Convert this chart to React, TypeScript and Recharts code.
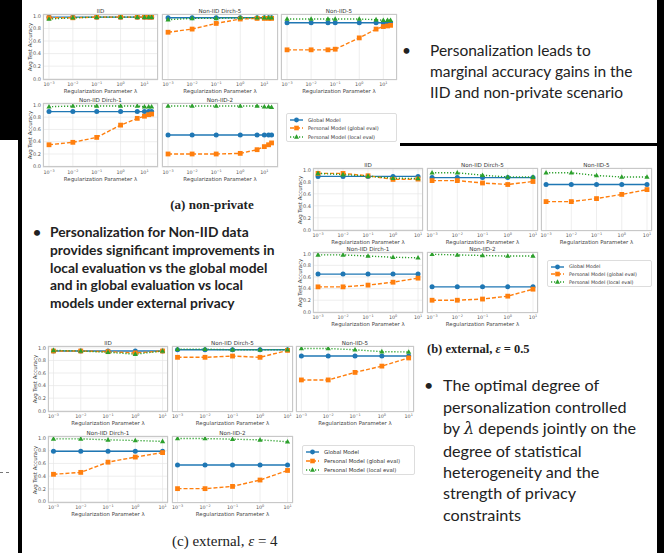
import React from 'react';
import { LineChart, Line, XAxis, YAxis, CartesianGrid } from 'recharts';

// lambda values
const LAMBDA_A = [0.001, 0.01, 0.1, 1, 5, 10, 15, 20];
const LAMBDA_A_N5 = [0.001, 0.01, 0.05, 0.1, 1, 5, 10, 15, 20];
const LAMBDA_EXT = [0.001, 0.01, 0.1, 1, 10];
const X_TICKS = [0.001, 0.01, 0.1, 1, 10];
const Y_TICKS = [0, 0.2, 0.4, 0.6, 0.8, 1.0];

// (a) non-private
const A_IID_G = [0.98, 0.98, 0.98, 0.98, 0.98, 0.98, 0.98, 0.98];
const A_IID_PG = [0.97, 0.97, 0.98, 0.98, 0.98, 0.98, 0.98, 0.98];
const A_IID_PL = [0.95, 0.97, 0.98, 0.98, 0.98, 0.98, 0.98, 0.98];
const A_D5_G = [0.97, 0.97, 0.97, 0.97, 0.97, 0.97, 0.97, 0.97];
const A_D5_PG = [0.74, 0.79, 0.88, 0.95, 0.96, 0.96, 0.96, 0.96];
const A_D5_PL = [0.94, 0.96, 0.96, 0.97, 0.97, 0.97, 0.97, 0.97];
const A_N5_G = [0.89, 0.89, 0.89, 0.89, 0.89, 0.89, 0.89, 0.89, 0.89];
const A_N5_PG = [0.46, 0.46, 0.46, 0.47, 0.65, 0.79, 0.83, 0.84, 0.85];
const A_N5_PL = [0.95, 0.95, 0.95, 0.95, 0.95, 0.94, 0.93, 0.93, 0.93];
const A_D1_G = [0.89, 0.89, 0.89, 0.89, 0.89, 0.89, 0.89, 0.89];
const A_D1_PG = [0.35, 0.39, 0.47, 0.67, 0.78, 0.815, 0.84, 0.85];
const A_D1_PL = [0.97, 0.98, 0.98, 0.98, 0.98, 0.97, 0.97, 0.97];
const A_N2_G = [0.51, 0.51, 0.51, 0.51, 0.51, 0.51, 0.51, 0.51];
const A_N2_PG = [0.2, 0.2, 0.2, 0.21, 0.27, 0.32, 0.35, 0.38];
const A_N2_PL = [0.98, 0.98, 0.98, 0.98, 0.98, 0.97, 0.97, 0.96];

// (b) external, eps = 0.5
const B_IID_G = [0.89, 0.89, 0.89, 0.89, 0.89];
const B_IID_PG = [0.94, 0.94, 0.9, 0.84, 0.845];
const B_IID_PL = [0.94, 0.92, 0.895, 0.86, 0.855];
const B_D5_G = [0.87, 0.87, 0.87, 0.87, 0.87];
const B_D5_PG = [0.82, 0.82, 0.78, 0.755, 0.805];
const B_D5_PL = [0.95, 0.95, 0.91, 0.88, 0.88];
const B_N5_G = [0.755, 0.755, 0.755, 0.755, 0.755];
const B_N5_PG = [0.47, 0.47, 0.52, 0.59, 0.67];
const B_N5_PL = [0.95, 0.95, 0.905, 0.88, 0.88];
const B_D1_G = [0.65, 0.65, 0.65, 0.65, 0.65];
const B_D1_PG = [0.43, 0.43, 0.46, 0.51, 0.58];
const B_D1_PL = [0.98, 0.98, 0.96, 0.94, 0.93];
const B_N2_G = [0.43, 0.43, 0.43, 0.43, 0.43];
const B_N2_PG = [0.2, 0.2, 0.22, 0.27, 0.39];
const B_N2_PL = [0.99, 0.98, 0.97, 0.96, 0.96];

// (c) external, eps = 4
const C_IID_G = [0.95, 0.95, 0.95, 0.95, 0.95];
const C_IID_PG = [0.95, 0.95, 0.94, 0.92, 0.95];
const C_IID_PL = [0.96, 0.95, 0.93, 0.9, 0.95];
const C_D5_G = [0.97, 0.97, 0.97, 0.97, 0.97];
const C_D5_PG = [0.85, 0.85, 0.87, 0.85, 0.96];
const C_D5_PL = [0.98, 0.98, 0.97, 0.97, 0.97];
const C_N5_G = [0.87, 0.87, 0.87, 0.87, 0.87];
const C_N5_PG = [0.49, 0.49, 0.61, 0.71, 0.84];
const C_N5_PL = [0.99, 0.99, 0.97, 0.94, 0.935];
const C_D1_G = [0.79, 0.79, 0.79, 0.79, 0.79];
const C_D1_PG = [0.43, 0.46, 0.62, 0.7, 0.77];
const C_D1_PL = [0.985, 0.985, 0.97, 0.96, 0.945];
const C_N2_G = [0.575, 0.575, 0.575, 0.575, 0.575];
const C_N2_PG = [0.205, 0.205, 0.24, 0.34, 0.49];
const C_N2_PL = [0.99, 0.99, 0.98, 0.97, 0.94];

const LEGEND_LABELS = ['Global Model', 'Personal Model (global eval)', 'Personal Model (local eval)'];

const BLUE = '#1f77b4';
const ORANGE = '#ff7f0e';
const GREEN = '#2ca02c';
const MPL = '"DejaVu Sans", sans-serif';

const DOMAIN_A: [number, number] = [0.00056, 37];
const DOMAIN_EXT: [number, number] = [0.00063, 15.8];

const rows = (xs: number[], g: number[], pg: number[], pl: number[]) =>
  xs.map((lam, i) => ({ lam, g: g[i], pg: pg[i], pl: pl[i] }));

const CircleDot = (p: any) =>
  p.cx == null ? null : <circle key={`c${p.index}`} cx={p.cx} cy={p.cy} r={2.5} fill={BLUE} />;
const SquareDot = (p: any) =>
  p.cx == null ? null : <rect key={`s${p.index}`} x={p.cx - 2.4} y={p.cy - 2.4} width={4.8} height={4.8} fill={ORANGE} />;
const TriDot = (p: any) =>
  p.cx == null ? null : (
    <polygon
      key={`t${p.index}`}
      points={`${p.cx},${p.cy - 2.8} ${p.cx - 2.6},${p.cy + 1.8} ${p.cx + 2.6},${p.cy + 1.8}`}
      fill={GREEN}
    />
  );

const XTick = (p: any) => {
  const e = Math.round(Math.log10(p.payload.value));
  return (
    <text x={p.x} y={p.y + 6} textAnchor="middle" fontSize={4.8} fill="#555" fontFamily={MPL}>
      10<tspan dy={-2} fontSize={3.4}>{e < 0 ? '\u2212' + -e : String(e)}</tspan>
    </text>
  );
};

type PanelProps = {
  left: number;
  top: number;
  w: number;
  h: number;
  title: string;
  data: { lam: number; g: number; pg: number; pl: number }[];
  domain: [number, number];
  ylabel?: boolean;
};

const Panel = ({ left, top, w, h, title, data, domain, ylabel }: PanelProps) => (
  <div style={{ position: 'absolute', left: left - 26, top: top - 6, width: w + 30, height: h + 30 }}>
    <LineChart width={w + 30} height={h + 30} data={data} margin={{ top: 6, right: 4, left: 0, bottom: 0 }}>
      <CartesianGrid stroke="#e6e6e6" strokeWidth={0.7} />
      <XAxis
        dataKey="lam"
        type="number"
        scale="log"
        domain={domain}
        allowDataOverflow
        ticks={X_TICKS}
        interval={0}
        tick={<XTick />}
        tickLine={false}
        axisLine={false}
        tickSize={0}
        tickMargin={0}
        height={24}
        label={{
          value: 'Regularization Parameter \u03bb',
          position: 'insideBottom',
          offset: 11,
          style: { fontSize: 5.4, fill: '#444', fontFamily: MPL },
        }}
      />
      <YAxis
        type="number"
        domain={[-0.02, 1.03]}
        allowDataOverflow
        ticks={Y_TICKS}
        interval={0}
        width={26}
        tickLine={false}
        axisLine={false}
        tickSize={0}
        tickMargin={2}
        tick={ylabel ? { fontSize: 5, fill: '#555', fontFamily: MPL } : false}
        tickFormatter={(v: number) => v.toFixed(1)}
      />
      <Line dataKey="g" stroke={BLUE} strokeWidth={1.4} dot={CircleDot} isAnimationActive={false} />
      <Line dataKey="pg" stroke={ORANGE} strokeWidth={1.4} strokeDasharray="4 2" dot={SquareDot} isAnimationActive={false} />
      <Line dataKey="pl" stroke={GREEN} strokeWidth={1.4} strokeDasharray="1.2 1.8" dot={TriDot} isAnimationActive={false} />
    </LineChart>
    <div
      style={{
        position: 'absolute', left: 26, top: 6, width: w, height: h,
        border: '1px solid #c8c8c8', boxSizing: 'border-box', pointerEvents: 'none',
      }}
    />
    <div
      style={{
        position: 'absolute', left: 26, top: 0, width: w, textAlign: 'center',
        fontSize: 5.6, lineHeight: '6px', color: '#333', fontFamily: MPL, whiteSpace: 'nowrap',
      }}
    >
      {title}
    </div>
    {ylabel && (
      <div
        style={{
          position: 'absolute', left: 13 - 40, top: 6 + h / 2 - 3, width: 80, textAlign: 'center',
          fontSize: 5.4, lineHeight: '6px', color: '#444', fontFamily: MPL,
          transform: 'rotate(-90deg)', whiteSpace: 'nowrap',
        }}
      >
        Avg Test Accuracy
      </div>
    )}
  </div>
);

const Legend = ({ left, top, w, h, fs }: { left: number; top: number; w: number; h: number; fs: number }) => {
  const rowH = (h - 4) / 3;
  const marks = [
    <>
      <line x1={0} y1={3} x2={13} y2={3} stroke={BLUE} strokeWidth={1.4} />
      <circle cx={6.5} cy={3} r={2.4} fill={BLUE} />
    </>,
    <>
      <line x1={0} y1={3} x2={13} y2={3} stroke={ORANGE} strokeWidth={1.4} strokeDasharray="4 2" />
      <rect x={4.2} y={0.7} width={4.6} height={4.6} fill={ORANGE} />
    </>,
    <>
      <line x1={0} y1={3} x2={13} y2={3} stroke={GREEN} strokeWidth={1.4} strokeDasharray="1.2 1.8" />
      <polygon points="6.5,0.3 4,4.8 9,4.8" fill={GREEN} />
    </>,
  ];
  return (
    <div
      style={{
        position: 'absolute', left, top, width: w, height: h, boxSizing: 'border-box',
        border: '1px solid #dddddd', borderRadius: 2, background: '#fff', padding: '2px 0 0 3px',
      }}
    >
      {LEGEND_LABELS.map((lab, i) => (
        <div key={lab} style={{ height: rowH, display: 'flex', alignItems: 'center' }}>
          <svg width={14} height={6} style={{ flex: 'none' }}>{marks[i]}</svg>
          <span style={{ marginLeft: 4, fontSize: fs, color: '#333', fontFamily: MPL, whiteSpace: 'nowrap' }}>{lab}</span>
        </div>
      ))}
    </div>
  );
};

const App = () => (
  <div
    style={{
      position: 'absolute', left: 0, top: 0, width: 664, height: 553, background: '#fff', overflow: 'hidden',
    }}
  >
    {/* slide frame bits */}
    <div style={{ position: 'absolute', left: 0, top: 0, width: 18, height: 140, background: '#000' }} />
    <div style={{ position: 'absolute', left: 18, top: 0, width: 4, height: 553, background: '#000' }} />
    <div style={{ position: 'absolute', left: 657, top: 0, width: 7, height: 553, background: '#000' }} />
    <div style={{ position: 'absolute', left: 400, top: 143, width: 257, height: 3, background: '#000' }} />
    <div style={{ position: 'absolute', left: 0, top: 472, width: 9, borderTop: '1px dashed #777' }} />

    {/* (a) non-private */}
    <Panel left={43} top={14} w={115} h={66} title="IID" data={rows(LAMBDA_A, A_IID_G, A_IID_PG, A_IID_PL)} domain={DOMAIN_A} ylabel />
    <Panel left={162} top={14} w={116} h={66} title="Non-IID Dirch-5" data={rows(LAMBDA_A, A_D5_G, A_D5_PG, A_D5_PL)} domain={DOMAIN_A} />
    <Panel left={281} top={14} w={116} h={66} title="Non-IID-5" data={rows(LAMBDA_A_N5, A_N5_G, A_N5_PG, A_N5_PL)} domain={DOMAIN_A} />
    <Panel left={43} top={102.5} w={115} h={64.5} title="Non-IID Dirch-1" data={rows(LAMBDA_A, A_D1_G, A_D1_PG, A_D1_PL)} domain={DOMAIN_A} ylabel />
    <Panel left={162} top={102.5} w={116} h={64.5} title="Non-IID-2" data={rows(LAMBDA_A, A_N2_G, A_N2_PG, A_N2_PL)} domain={DOMAIN_A} />
    <Legend left={286} top={113} w={111} h={29} fs={5} />
    <div style={{ position: 'absolute', left: 150, top: 197, width: 124, textAlign: 'center', fontFamily: '"Liberation Serif", serif', fontWeight: 'bold', fontSize: 13, color: '#222' }}>
      (a) non-private
    </div>

    {/* (b) external, eps = 0.5 */}
    <Panel left={313} top={168} w={110} h={63} title="IID" data={rows(LAMBDA_EXT, B_IID_G, B_IID_PG, B_IID_PL)} domain={DOMAIN_EXT} ylabel />
    <Panel left={427} top={168} w={111} h={63} title="Non-IID Dirch-5" data={rows(LAMBDA_EXT, B_D5_G, B_D5_PG, B_D5_PL)} domain={DOMAIN_EXT} />
    <Panel left={541} top={168} w={111} h={63} title="Non-IID-5" data={rows(LAMBDA_EXT, B_N5_G, B_N5_PG, B_N5_PL)} domain={DOMAIN_EXT} />
    <Panel left={313} top={252} w={110} h={61} title="Non-IID Dirch-1" data={rows(LAMBDA_EXT, B_D1_G, B_D1_PG, B_D1_PL)} domain={DOMAIN_EXT} ylabel />
    <Panel left={427} top={252} w={111} h={61} title="Non-IID-2" data={rows(LAMBDA_EXT, B_N2_G, B_N2_PG, B_N2_PL)} domain={DOMAIN_EXT} />
    <Legend left={547} top={260} w={105} h={27} fs={4.8} />
    <div style={{ position: 'absolute', left: 427, top: 342, whiteSpace: 'nowrap', fontFamily: '"Liberation Serif", serif', fontWeight: 'bold', fontSize: 12.5, color: '#222' }}>
      (b) external, <i>{'\u03b5'}</i> = 0.5
    </div>

    {/* (c) external, eps = 4 */}
    <Panel left={48} top={345.5} w={120} h={66} title="IID" data={rows(LAMBDA_EXT, C_IID_G, C_IID_PG, C_IID_PL)} domain={DOMAIN_EXT} ylabel />
    <Panel left={172} top={345.5} w={121} h={66} title="Non-IID Dirch-5" data={rows(LAMBDA_EXT, C_D5_G, C_D5_PG, C_D5_PL)} domain={DOMAIN_EXT} />
    <Panel left={296} top={345.5} w={118} h={66} title="Non-IID-5" data={rows(LAMBDA_EXT, C_N5_G, C_N5_PG, C_N5_PL)} domain={DOMAIN_EXT} />
    <Panel left={48} top={436} w={120} h={67} title="Non-IID Dirch-1" data={rows(LAMBDA_EXT, C_D1_G, C_D1_PG, C_D1_PL)} domain={DOMAIN_EXT} ylabel />
    <Panel left={172} top={436} w={121} h={67} title="Non-IID-2" data={rows(LAMBDA_EXT, C_N2_G, C_N2_PG, C_N2_PL)} domain={DOMAIN_EXT} />
    <Legend left={302} top={445} w={113} h={30} fs={5.4} />
    <div style={{ position: 'absolute', left: 172, top: 533, whiteSpace: 'nowrap', fontFamily: '"Liberation Serif", serif', fontSize: 15, color: '#222' }}>
      (c) external, <i>{'\u03b5'}</i> = 4
    </div>

    {/* bullets */}
    <div style={{ position: 'absolute', left: 402, top: 39.5, fontFamily: 'Lato, sans-serif', fontSize: 15.5, lineHeight: '21px', color: '#222', whiteSpace: 'nowrap' }}>
      <span style={{ position: 'absolute', left: 0 }}>{'\u2022'}</span>
      <div style={{ marginLeft: 28 }}>
        Personalization leads to<br />marginal accuracy gains in the<br />IID and non-private scenario
      </div>
    </div>
    <div style={{ position: 'absolute', left: 33, top: 223, fontFamily: 'Lato, sans-serif', fontWeight: 'bold', fontSize: 13.8, lineHeight: '17.8px', color: '#222', whiteSpace: 'nowrap' }}>
      <span style={{ position: 'absolute', left: 0 }}>{'\u2022'}</span>
      <div style={{ marginLeft: 17 }}>
        Personalization for Non-IID data<br />provides significant improvements in<br />local evaluation vs the global model<br />and in global evaluation vs local<br />models under external privacy
      </div>
    </div>
    <div style={{ position: 'absolute', left: 424, top: 374.3, fontFamily: 'Lato, sans-serif', fontSize: 16.2, lineHeight: '21.4px', color: '#222', whiteSpace: 'nowrap' }}>
      <span style={{ position: 'absolute', left: 0 }}>{'\u2022'}</span>
      <div style={{ marginLeft: 19 }}>
        The optimal degree of<br />personalization controlled<br />by <i style={{ fontFamily: '"DejaVu Serif", serif' }}>{'\u03bb'}</i> depends jointly on the<br />degree of statistical<br />heterogeneity and the<br />strength of privacy<br />constraints
      </div>
    </div>
  </div>
);

export default App;
